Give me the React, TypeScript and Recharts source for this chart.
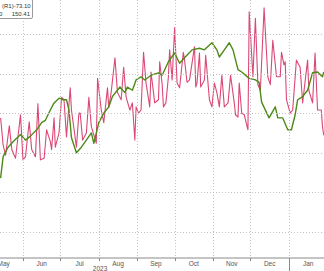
import React from "react";
import { LineChart, Line, XAxis, YAxis } from "recharts";

// Day index = days since 2023-05-01 (day 0)
const redDays = [13,15,17,20,22,25,29,31,33,36,38,41,43,45,48,50,53,54,56,57,60,62,64,66,69,70,74,76,77,79,82,84,86,90,91,94,96,99,100,102,105,107,110,112,114,117,119,121,122,124,126,128,130,133,134,137,140,141,143,144,146,148,149,151,153,155,157,160,161,163,165,169,170,171,173,174,177,178,181,183,185,187,189,191,193,196,198,201,202,204,205,207,209,212,213,216,218,220,222,225,228,230,232,235,238,239,241,242,243,246,248,251,254,256,260,261,264,266,268,271,272,273];
const redValues = [144,110,97,134,104,93,148,91,95,139,104,95,162,91,93,129,114,104,144,107,125,170,167,120,182,154,107,150,150,116,125,170,133,112,194,154,138,182,157,177,220,176,167,208,170,154,163,116,158,150,154,227,188,158,202,163,167,215,186,158,163,196,230,192,258,188,182,227,217,189,192,234,183,188,226,183,192,223,167,158,188,176,158,198,158,163,198,163,148,145,188,150,148,129,278,196,270,186,179,283,196,186,242,196,196,227,211,215,167,150,154,217,208,163,217,179,163,226,154,154,133,122];

const greenDays = [13,15,19,23,29,33,37,42,46,49,53,56,60,63,66,68,70,74,78,82,86,88,92,96,100,103,109,113,115,119,122,126,129,134,140,143,148,153,157,161,167,173,177,183,187,189,193,197,200,204,207,213,218,221,223,229,234,236,240,244,247,250,252,256,260,264,268,272,273];
const greenValues = [68,95,107,114,123,116,121,129,138,141,154,163,169,167,167,154,119,100,107,116,125,112,138,150,158,171,183,176,183,179,192,196,192,198,201,198,215,226,213,220,230,232,230,239,230,221,230,239,230,205,202,194,192,189,164,144,158,144,144,129,129,148,167,171,179,201,202,196,202];

const monthBoundaries = [31, 61, 92, 123, 153, 184, 214, 245];
const monthMids = [15.5, 46, 76.5, 107.5, 138, 168.5, 199, 229.5, 260.5];
const monthLabels = ["May", "Jun", "Jul", "Aug", "Sep", "Oct", "Nov", "Dec", "Jan"];
const yearLabelDay = 93;
const yearLabel = "2023";
const yearDividerDay = 245;
const yTicks = [0, 50, 100, 150, 200, 250];
const legendLine1 = ["(R1)", "-73.10"];
const legendLine2 = ["0", "150.41"];

const xDomain = [12.5, 273.2];
const yDomain = [-33, 293];

const redData = redDays.map((d, i) => ({ day: d, v: redValues[i] }));
const greenData = greenDays.map((d, i) => ({ day: d, v: greenValues[i] }));

const W = 324;
const H = 271;
const AXIS_Y = 258;
const FONT = "'Liberation Sans', Arial, sans-serif";
const GRID = "#c2c2c2";

const allTicks = [...monthBoundaries, ...monthMids, yearLabelDay].sort((a, b) => a - b);

const AxisTick = (props: any) => {
  const { x, payload } = props;
  const d = payload.value;
  const xr = Math.round(x) + 0.5;
  if (d === yearDividerDay) {
    return (
      <g>
        <line x1={xr} x2={xr} y1={0} y2={AXIS_Y} stroke={GRID} strokeWidth={1} strokeDasharray="1 2" />
        <line x1={xr} x2={xr} y1={AXIS_Y} y2={H} stroke="#8a8a8a" strokeWidth={1} />
      </g>
    );
  }
  if (monthBoundaries.includes(d)) {
    return (
      <g>
        <line x1={xr} x2={xr} y1={0} y2={AXIS_Y} stroke={GRID} strokeWidth={1} strokeDasharray="1 2" />
        <line x1={xr} x2={xr} y1={AXIS_Y} y2={AXIS_Y + 3} stroke="#8a8a8a" strokeWidth={1} />
      </g>
    );
  }
  if (d === yearLabelDay) {
    return (
      <text x={x} y={AXIS_Y + 12.5} textAnchor="middle" fontSize={6.5} fill="#555" fontFamily={FONT}>
        {yearLabel}
      </text>
    );
  }
  const i = monthMids.indexOf(d);
  return (
    <text x={x} y={AXIS_Y + 7.5} textAnchor="middle" fontSize={6.5} fill="#555" fontFamily={FONT}>
      {monthLabels[i]}
    </text>
  );
};

const YTick = (props: any) => {
  const { y } = props;
  const yr = Math.round(y) + 0.5;
  return <line x1={0} x2={W} y1={yr} y2={yr} stroke={GRID} strokeWidth={1} strokeDasharray="1 2" />;
};

export default function App() {
  return (
    <div style={{ position: "absolute", left: 0, top: 0, width: W, height: H, background: "#fff", overflow: "hidden" }}>
      <LineChart width={W + 1} height={H} data={redData} margin={{ top: 0, right: 0, bottom: 0, left: 0 }}>
        <YAxis
          type="number"
          orientation="right"
          domain={yDomain}
          allowDataOverflow
          ticks={yTicks}
          interval={0}
          width={1}
          tick={<YTick />}
          axisLine={false}
          tickLine={false}
        />
        <XAxis
          dataKey="day"
          type="number"
          domain={xDomain}
          allowDataOverflow
          ticks={allTicks}
          interval={0}
          height={13}
          tickSize={0}
          tickLine={false}
          axisLine={{ stroke: "#8a8a8a" }}
          tick={<AxisTick />}
        />
        <Line
          dataKey="v"
          type="linear"
          stroke="#db4876"
          strokeWidth={1.1}
          dot={false}
          isAnimationActive={false}
          strokeLinejoin="round"
        />
        <Line
          data={greenData}
          dataKey="v"
          type="linear"
          stroke="#4d8a16"
          strokeWidth={1.4}
          dot={false}
          isAnimationActive={false}
          strokeLinejoin="round"
        />
      </LineChart>
      <div
        style={{
          position: "absolute",
          left: -3,
          top: -3,
          width: 36,
          height: 22,
          border: "1px solid #9a9a9a",
          borderRadius: 2,
          background: "#fff",
          fontFamily: FONT,
          fontSize: 6,
          color: "#333",
          lineHeight: "8px",
          boxSizing: "border-box",
          padding: "4px 2px 0 4px",
        }}
      >
        <div style={{ display: "flex", justifyContent: "space-between" }}>
          <span>{legendLine1[0]}</span>
          <span>{legendLine1[1]}</span>
        </div>
        <div style={{ display: "flex", justifyContent: "space-between", marginLeft: -3 }}>
          <span>{legendLine2[0]}</span>
          <span>{legendLine2[1]}</span>
        </div>
      </div>
    </div>
  );
}
